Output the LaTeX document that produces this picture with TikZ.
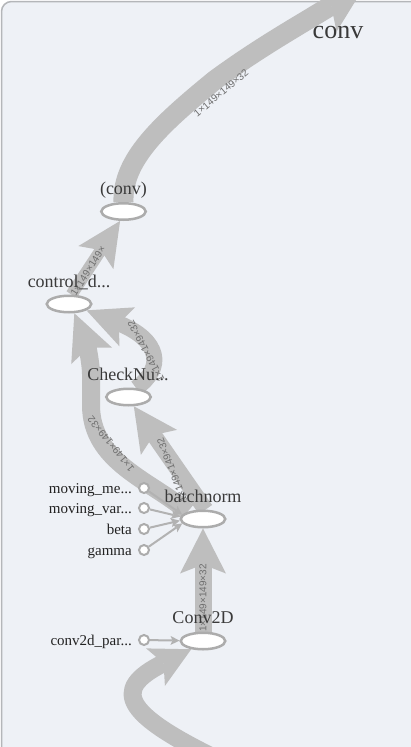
\documentclass[tikz,border=0pt]{standalone}
\usepackage{fontspec}
\setmainfont{Liberation Serif}
\newfontfamily\edgefont{Liberation Sans}
\usetikzlibrary{arrows.meta,shapes.geometric}
\definecolor{panelbg}{HTML}{EEF1F6}
\definecolor{panelline}{HTML}{B4B6B9}
\definecolor{edgegray}{HTML}{BEBEBE}
\definecolor{constgray}{HTML}{B2B2B2}
\definecolor{nodeline}{HTML}{ACACAC}
\definecolor{labeltext}{HTML}{3A3A3A}
\definecolor{consttext}{HTML}{222222}
\definecolor{edgetext}{HTML}{6E6E6E}
\pgfdeclarelayer{bg}
\pgfdeclarelayer{edges}
\pgfsetlayers{bg,edges,main}
\begin{document}
\begin{tikzpicture}[x=1pt,y=-1pt,
  opnode/.style={ellipse, draw=nodeline, line width=2.5pt, fill=white,
    minimum width=44.5pt, minimum height=16.5pt, inner sep=0pt},
  oplabel/.style={anchor=base, font=\fontsize{18}{18}\selectfont, text=labeltext, inner sep=0pt},
  constnode/.style={circle, draw=nodeline, line width=2pt, fill=white,
    minimum size=10pt, inner sep=0pt},
  constlabel/.style={anchor=base east, font=\fontsize{15}{15}\selectfont, text=consttext, inner sep=0pt},
  flow/.style={draw=edgegray, line width=#1, line join=round},
  bigtip/.style n args={2}{-{Stealth[length=#1,width=#2,inset=9pt,line width=0pt]}},
  constedge/.style={draw=constgray, line width=2pt,
    -{Stealth[length=9pt,width=9pt,inset=2pt,line width=0pt]}},
  edgelabel/.style={font=\edgefont\fontsize{10}{10}\selectfont, text=edgetext, inner sep=0pt}
]
\useasboundingbox (0,0) rectangle (411,747);
\begin{pgfonlayer}{bg}
  \fill[white] (0,0) rectangle (411,747);
  \fill[panelbg, rounded corners=10pt] (1.5,1.5) rectangle (440,770);
  \draw[panelline, line width=1.5pt, rounded corners=10pt] (1.5,770) |- (440,1.5);
\end{pgfonlayer}

% op nodes
\node[opnode] (conv) at (123.5,211.5) {};
\node[opnode] (ctrl) at (69,304) {};
\node[opnode] (chk) at (128.5,397) {};
\node[opnode] (bn) at (203,519) {};
\node[opnode] (c2d) at (203,641) {};

% const nodes
\node[constnode] (mm) at (144,488) {};
\node[constnode] (mv) at (144,508) {};
\node[constnode] (beta) at (144,529) {};
\node[constnode] (gamma) at (144,550) {};
\node[constnode] (cp) at (144,640) {};

% off-picture ends
\coordinate (atop) at (366,-16);
\coordinate (gin) at (240,770);

\begin{pgfonlayer}{edges}
  \clip (0,0) rectangle (411,747);
  % (conv) -> conv
  \draw[flow=20pt, bigtip={50pt}{50pt}] (conv.north)
     .. controls (122,160) and (160,125) .. (215,80)
     .. controls (260,47) and (298,26) .. (atop);
  % control_d -> (conv)
  \draw[flow=12pt, bigtip={44pt}{42pt}] (ctrl.75) -- (conv.250);
  % batchnorm -> control_d
  \draw[flow=18pt, bigtip={46pt}{44pt}] (bn.155)
     .. controls (150,480) and (91,462) .. (91,405) -- (91,374)
     .. controls (91,362) and (86,342) .. (ctrl.300);
  % CheckNu -> control_d
  \draw[flow=16pt, bigtip={44pt}{42pt}] (chk.50)
     .. controls (165,368) and (160,340) .. (ctrl.340);
  % batchnorm -> CheckNu
  \draw[flow=16pt, bigtip={44pt}{44pt}] (bn.75) -- (chk.300);
  % Conv2D -> batchnorm
  \draw[flow=17pt, bigtip={45pt}{46pt}] (c2d.north) -- (bn.south);
  % input -> Conv2D
  \draw[flow=18pt, bigtip={40pt}{42pt}] (gin)
     .. controls (120,715) and (110,690) .. (c2d.215);
  % constants
  \draw[constedge] (mm) -- (bn.168);
  \draw[constedge] (mv) -- (bn.174);
  \draw[constedge] (beta) -- (bn.184);
  \draw[constedge] (gamma) -- (bn.192);
  \draw[constedge] (cp) -- (c2d);
\end{pgfonlayer}

% edge labels
\node[edgelabel, rotate=40] (la) at (221,93) {1×149×149×32};
\node[edgelabel, rotate=58] (lb) at (88,271) {1×149×149×};
\node[edgelabel, rotate=129] (lc) at (111,444) {1×149×149×32};
\node[edgelabel, rotate=118] (ld) at (146,351) {1×149×149×32};
\node[edgelabel, rotate=111] (le) at (172,470) {1×149×149×32};
\node[edgelabel, rotate=90] (lf) at (203,598) {1×149×149×32};

% op labels
\node[oplabel] (convlab) at (123.5,194) {(conv)};
\node[oplabel] (ctrllab) at (69,287) {control\_d...};
\node[oplabel] (chklab) at (128,380) {CheckNu...};
\node[oplabel] (bnlab) at (203,502) {batchnorm};
\node[oplabel] (c2dlab) at (203,623) {Conv2D};
\node[anchor=base, font=\fontsize{26}{26}\selectfont, text=labeltext, inner sep=0pt] (title) at (338,38) {conv};

% const labels
\node[constlabel] (mmlab) at (132,493) {moving\_me...};
\node[constlabel] (mvlab) at (132,513) {moving\_var...};
\node[constlabel] (betalab) at (132,534) {beta};
\node[constlabel] (gammalab) at (132,555) {gamma};
\node[constlabel] (cplab) at (132,645) {conv2d\_par...};
\end{tikzpicture}
\end{document}
